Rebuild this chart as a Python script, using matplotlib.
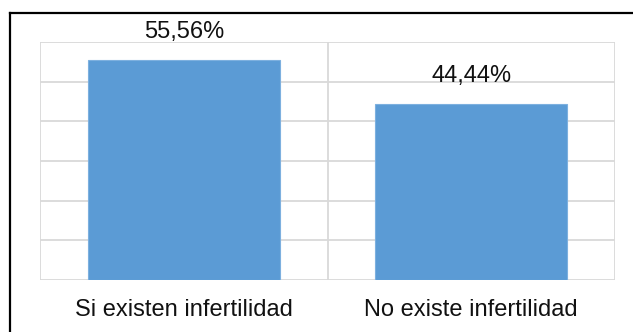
import matplotlib.pyplot as plt
from matplotlib.lines import Line2D

categories = ["Si existen infertilidad", "No existe infertilidad"]
values = [55.56, 44.44]
labels = ["55,56%", "44,44%"]

plt.rcParams["font.family"] = ["Liberation Sans", "DejaVu Sans"]

W, H = 633, 332
fig = plt.figure(figsize=(W / 100, H / 100), dpi=100)

# plot area in pixels: x 40..615, y 42..280 (from top)
ax = fig.add_axes([40 / W, 1 - 280 / H, 575 / W, 238 / H])

x = list(range(len(categories)))
ax.bar(x, values, width=0.667, color="#5B9BD5", edgecolor="#7DB0DF",
       linewidth=0.8, zorder=3)
for xi, v, lab in zip(x, values, labels):
    ax.annotate(lab, (xi, v), xytext=(0, 12), textcoords="offset points",
                ha="center", va="bottom", fontsize=17, color="#111111")

ax.set_xlim(-0.5, 1.5)
ax.set_ylim(0, 60)
ax.set_yticks(range(0, 61, 10))
ax.set_yticklabels([])
ax.set_xticks(x)
ax.set_xticklabels(categories, fontsize=17, color="#111111")
ax.tick_params(axis="both", length=0)
ax.tick_params(axis="x", pad=14)
ax.grid(axis="y", color="#D9D9D9", linewidth=1.3, zorder=0)
# vertical lines at category boundaries
for b in [-0.5, 0.5, 1.5]:
    ax.axvline(b, color="#D9D9D9", linewidth=1.3, zorder=0)
for s in ax.spines.values():
    s.set_visible(False)

# outer frame
fig.add_artist(Line2D([10 / W, 10 / W], [0, 1 - 13 / H], transform=fig.transFigure,
                      color="black", linewidth=1.6))
fig.add_artist(Line2D([10 / W, 1], [1 - 13 / H, 1 - 13 / H], transform=fig.transFigure,
                      color="black", linewidth=1.6))

fig.savefig("out.png", dpi=100)
